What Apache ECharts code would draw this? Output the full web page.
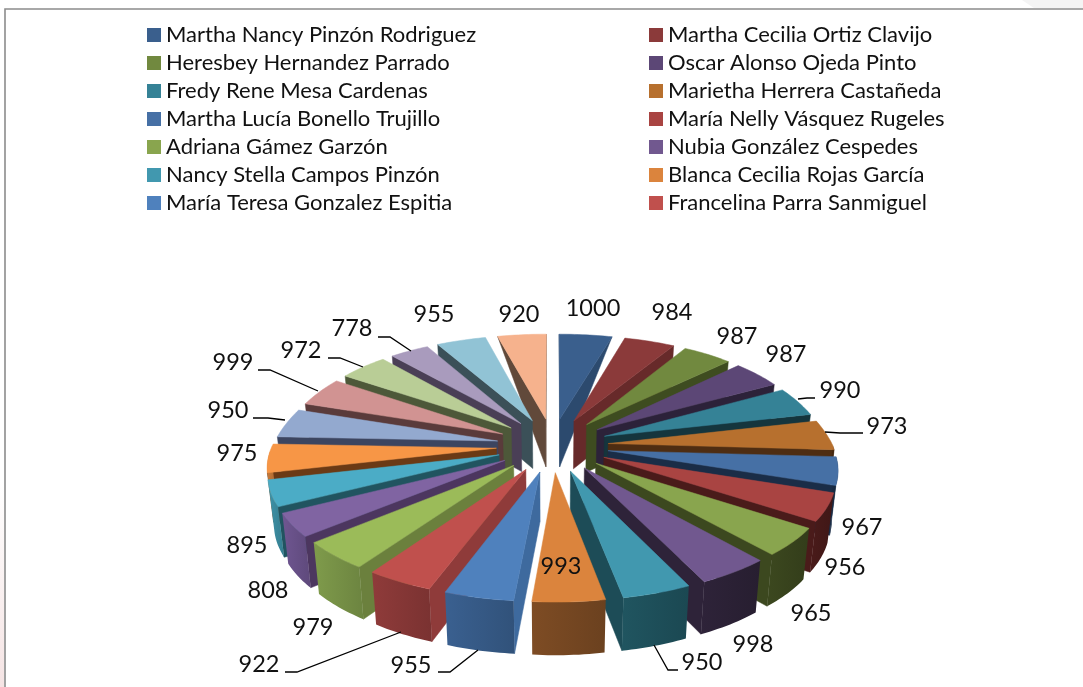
<!DOCTYPE html>
<html>
<head>
<meta charset="utf-8">
<style>
  html, body { margin: 0; padding: 0; background: #fff; }
  #chart { width: 1083px; height: 687px; }
</style>
<script src="https://cdn.jsdelivr.net/npm/echarts@6/dist/echarts.min.js"></script>
</head>
<body>
<div id="chart"></div>
<script>
// valores de cada porción, en sentido horario desde las 12
const values = [1000, 984, 987, 987, 990, 973, 967, 956, 965, 998, 950, 993,
  955, 922, 979, 808, 895, 975, 950, 999, 972, 778, 955, 920]

// la leyenda original solo muestra los primeros 14
const names = [
  'Martha Nancy Pinzón Rodriguez', 'Martha Cecilia Ortiz Clavijo',
  'Heresbey Hernandez Parrado', 'Oscar Alonso Ojeda Pinto',
  'Fredy Rene Mesa Cardenas', 'Marietha Herrera Castañeda',
  'Martha Lucía Bonello Trujillo', 'María Nelly Vásquez Rugeles',
  'Adriana Gámez Garzón', 'Nubia González Cespedes',
  'Nancy Stella Campos Pinzón', 'Blanca Cecilia Rojas García',
  'María Teresa Gonzalez Espitia', 'Francelina Parra Sanmiguel'
]

// colores: cara superior, paredes radiales, pared exterior
const topColors = ['#3A5F8D', '#8B3A3A', '#71893F', '#5C4776', '#358296', '#B7702E',
  '#4670A5', '#A94442', '#89A54E', '#71588F', '#4198AF', '#DB843D',
  '#4F81BD', '#C0504D', '#9BBB59', '#8064A2', '#4BACC6', '#F79646',
  '#93A9CF', '#D19392', '#B9CD96', '#A99BBD', '#91C3D5', '#F6B28D']
const wallColors = ['#2C4A6E', '#672A2A', '#3E4C20', '#2C2239', '#15353D', '#4E2D12',
  '#1A2D47', '#4A1B1A', '#3C481F', '#2E2339', '#1D4C57', '#7A4A22',
  '#3E6A9E', '#8F3B3A', '#6B803D', '#4C365F', '#215460', '#6B3A15',
  '#3C4560', '#5A3B3B', '#4D5839', '#4A3F56', '#3B5058', '#61493A']
const outerColors = ['#2C4A6E', '#672A2A', '#3E4C20', '#2C2239', '#15353D', '#4E2D12',
  '#1A2D47', '#4A1B1A', '#3C481F', '#2E2339', '#205560', '#7E4C24',
  '#3A6090', '#8F3B3A', '#7F9B4B', '#6F5691', '#3E93A8', '#C97A38',
  '#93A9CF', '#D19392', '#B9CD96', '#A99BBD', '#91C3D5', '#F6B28D']

// posición de las etiquetas (centro del texto) por porción
const labelX = [593, 672, 737, 786, 840, 887, 862, 845, 811, 753, 702, 561,
  411, 259, 313, 268, 247, 237, 228, 233, 301, 352, 434, 519]
const labelY = [308, 312, 336, 354, 390, 426, 527, 567, 613, 644, 662, 566,
  665, 664, 627, 590, 545, 453, 410, 362, 350, 328, 314, 314]

// líneas guía: índice de porción y sus tres puntos
const leaders = [
  [4, [[798, 399], [807, 398], [815, 398]]],
  [5, [[825, 432], [840, 433], [863, 433]]],
  [10, [[654, 645], [668, 670], [678, 670]]],
  [12, [[478, 650], [450, 672], [438, 672]]],
  [13, [[401, 632], [297, 672], [285, 672]]],
  [18, [[285, 420], [268, 418], [253, 418]]],
  [19, [[318, 391], [270, 370], [258, 370]]],
  [20, [[363, 367], [340, 358], [328, 358]]],
  [21, [[411, 351], [390, 337], [378, 337]]]
]

// proyección en perspectiva del disco
const cx = 552.5
const cy = 445.7
const radiusX = 284
const radiusY = 130.3
const persp = 0.167
const thickness = 48.5
const explode = 0.2
const innerR = 1 - explode
const total = values.reduce((sum, v) => sum + v, 0)

// corrección empírica: el 3D de Excel queda algo más estrecho a los lados y atrás
const sideSqueeze = (v) => {
  if (v <= 0) return 0.1 * -v * (1 + v) + 0.012 * (1 + v)
  return Math.max(0, 0.012 * (1 - v / 0.6))
}

const project = (u, v, down) => {
  const s = 1 / (1 - persp * v)
  const lift = v < 0 ? 10 * -v * (1 + v) : 0
  // la base se ve un poco más cerrada que la cara superior
  const shrink = down ? 0.978 : 1
  return [
    cx + radiusX * u * s * (1 - sideSqueeze(v)) * shrink,
    cy + radiusY * v * s - lift + (down ? thickness * Math.sqrt(s) : 0)
  ]
}

// ángulos de cada porción
const slices = []
let acc = 0
values.forEach((val, i) => {
  const a0 = acc / total * Math.PI * 2
  acc += val
  const a1 = acc / total * Math.PI * 2
  const mid = (a0 + a1) / 2
  slices.push({
    index: i,
    a0,
    a1,
    ox: explode * Math.sin(mid),
    oy: -explode * Math.cos(mid),
    depth: -Math.cos(mid)
  })
})

// de atrás hacia adelante
const drawOrder = [...slices].sort((a, b) => a.depth - b.depth)
drawOrder.forEach((sl, rank) => { sl.rank = rank })

const wallVisible = (apex, corner, inside) => {
  const ex = corner[0] - apex[0]
  const ey = corner[1] - apex[1]
  const crossDown = ex
  const crossIn = ex * (inside[1] - apex[1]) - ey * (inside[0] - apex[0])
  return crossDown * crossIn < 0
}

const renderSlice = (sl) => () => {
  const steps = 14
  const topArc = []
  const lowArc = []
  const frontTop = []
  const frontLow = []
  for (let k = 0; k <= steps; k++) {
    const a = sl.a0 + (sl.a1 - sl.a0) * k / steps
    const u = sl.ox + innerR * Math.sin(a)
    const v = sl.oy - innerR * Math.cos(a)
    topArc.push(project(u, v, false))
    lowArc.push(project(u, v, true))
    // la pared exterior solo se ve en la mitad delantera
    if (Math.cos(a) <= 0) {
      frontTop.push(topArc[k])
      frontLow.push(lowArc[k])
    }
  }
  const apexTop = project(sl.ox, sl.oy, false)
  const apexLow = project(sl.ox, sl.oy, true)
  const inside = topArc[Math.floor(steps / 2)]
  const children = []

  const wallFill = wallColors[sl.index]
  const addWall = (top, low, a) => {
    if (!wallVisible(apexTop, top, inside)) return
    // en el fondo la pared termina en punta, como en el original
    const cornerV = sl.oy - innerR * Math.cos(a)
    const points = cornerV < -0.9 ? [apexTop, top, apexLow] : [apexTop, top, low, apexLow]
    children.push({
      type: 'polygon',
      shape: { points },
      style: { fill: wallFill, stroke: wallFill, lineWidth: 0.5 }
    })
  }
  addWall(topArc[0], lowArc[0], sl.a0)
  addWall(topArc[steps], lowArc[steps], sl.a1)

  if (frontTop.length > 1) {
    const outer = outerColors[sl.index]
    children.push({
      type: 'polygon',
      shape: { points: frontTop.concat([...frontLow].reverse()) },
      style: {
        fill: new echarts.graphic.LinearGradient(0, 0, 1, 0, [
          { offset: 0, color: outer },
          { offset: 1, color: echarts.color.lerp(0.15, [outer, '#000000']) }
        ])
      }
    })
  }

  children.push({
    type: 'polygon',
    shape: { points: [apexTop, ...topArc] },
    style: { fill: topColors[sl.index], stroke: topColors[sl.index], lineWidth: 0.5 }
  })
  return { type: 'group', children }
}

const series = slices.map((sl) => ({
  type: 'custom',
  name: names[sl.index] || 'Porción ' + (sl.index + 1),
  coordinateSystem: 'none',
  silent: true,
  z: 2 + sl.rank,
  itemStyle: { color: topColors[sl.index] },
  data: [[values[sl.index]]],
  renderItem: renderSlice(sl)
}))

const labelFont = '"Lato", "Noto Sans", sans-serif'
const valueTexts = values.map((val, i) => ({
  type: 'text',
  x: labelX[i],
  y: labelY[i],
  z: 100,
  style: {
    text: String(val),
    font: '23.5px ' + labelFont,
    fill: '#111',
    align: 'center',
    verticalAlign: 'middle'
  }
}))
const leaderLines = leaders.map(([, pts]) => ({
  type: 'polyline',
  z: 99,
  shape: { points: pts },
  style: { stroke: '#000', lineWidth: 1.3, fill: 'none' }
}))

const legendBase = {
  orient: 'vertical',
  top: 24,
  padding: 0,
  itemWidth: 14,
  itemHeight: 14,
  itemGap: 6,
  icon: 'rect',
  selectedMode: false,
  textStyle: { fontFamily: labelFont, fontSize: 22, color: '#111', lineHeight: 22 }
}

const chart = echarts.init(document.getElementById('chart'))
chart.setOption({
  animation: false,
  backgroundColor: '#fff',
  legend: [
    { ...legendBase, left: 147, data: names.filter((n, i) => i % 2 === 0) },
    { ...legendBase, left: 649, data: names.filter((n, i) => i % 2 === 1) }
  ],
  graphic: [
    // restos del fondo de la página escaneada, fuera del marco
    {
      type: 'polygon',
      z: 0,
      shape: { points: [[1022, 0], [1083, 0], [1083, 8], [1034, 8]] },
      style: { fill: '#f4f4f4' }
    },
    {
      type: 'rect',
      z: 0,
      shape: { x: 0, y: 480, width: 4, height: 207 },
      style: {
        fill: new echarts.graphic.LinearGradient(0, 0, 0, 1, [
          { offset: 0, color: '#ffffff' },
          { offset: 1, color: '#f5e4e4' }
        ])
      }
    },
    {
      type: 'polyline',
      z: 1,
      shape: { points: [[5, 687], [5, 9], [1083, 9]] },
      style: { stroke: '#8c8c8c', lineWidth: 1.6, fill: 'none' }
    },
    ...leaderLines,
    ...valueTexts
  ],
  series
})
</script>
</body>
</html>
